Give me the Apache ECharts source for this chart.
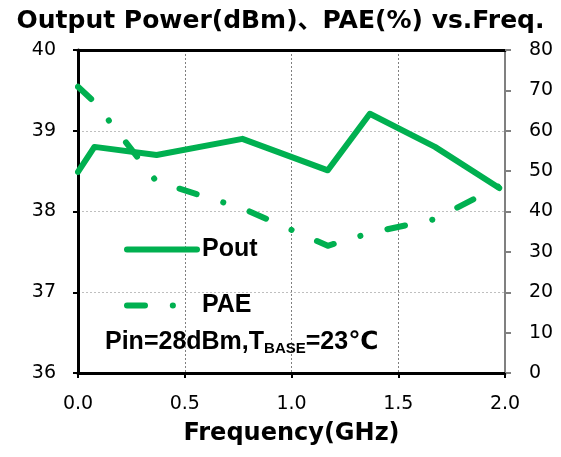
<!DOCTYPE html>
<html><head><meta charset="utf-8">
<script src="https://cdn.jsdelivr.net/npm/echarts@6/dist/echarts.min.js"></script>
<style>html,body{margin:0;padding:0;background:#fff}#c{width:561px;height:457px}</style>
</head><body><div id="c"></div>
<script>
var freq = [0.0, 0.077, 0.368, 0.77, 1.17, 1.367, 1.672, 1.973];
var pout = [38.49, 38.80, 38.70, 38.90, 38.51, 39.21, 38.80, 38.29];
var pae = [70.9, 67.1, 47.4, 40.8, 31.5, 34.7, 38.1, 46.3];
var xTicks = ['0.0', '0.5', '1.0', '1.5', '2.0'];
var green = '#00B050';
function pairs(xs, ys){ return xs.map(function(x,i){ return [x, ys[i]]; }); }

var chart = echarts.init(document.getElementById('c'), null, {renderer:'canvas'});
var axFont = 'DejaVu Sans';
chart.setOption({
  animation: false,
  backgroundColor: '#fff',
  title: {
    text: 'Output Power(dBm)、PAE(%) vs.Freq.',
    left: 'center', top: 9, padding: 0,
    textStyle: {fontFamily: 'DejaVu Sans, Noto Sans CJK SC', fontWeight: 'bold', fontSize: 25, color: '#000'}
  },
  legend: {
    left: 119, top: 232, orient: 'vertical',
    itemWidth: 70, itemHeight: 25, itemGap: 31,
    lineStyle: {width: 6},
    itemStyle: {opacity: 0},
    textStyle: {fontFamily: 'Liberation Sans', fontWeight: 'bold', fontSize: 25, color: '#000'},
    data: ['Pout', 'PAE']
  },
  grid: {left: 78, right: 56, top: 50, bottom: 84, containLabel: false},
  xAxis: [{
    type: 'value', min: 0, max: 2, interval: 0.5,
    axisLine: {show: true, onZero: false, lineStyle: {color: '#000', width: 3}},
    axisTick: {show: true, inside: false, length: 5, lineStyle: {color: '#000', width: 2}},
    axisLabel: {margin: 22, fontFamily: axFont, fontSize: 19, color: '#000',
      formatter: function(v){ return xTicks[Math.round(v/0.5)]; }},
    splitLine: {show: true, lineStyle: {color: '#7f7f7f', type: [2,2], width: 1}},
    name: 'Frequency(GHz)', nameLocation: 'middle', nameGap: 49,
    nameTextStyle: {fontFamily: 'DejaVu Sans', fontWeight: 'bold', fontSize: 24, color: '#000'}
  }, {
    type: 'value', position: 'top', min: 0, max: 2, interval: 0.5,
    axisLine: {show: true, onZero: false, lineStyle: {color: '#000', width: 3}},
    axisTick: {show: false}, axisLabel: {show: false}, splitLine: {show: false}
  }],
  yAxis: [{
    type: 'value', min: 36, max: 40, interval: 1, position: 'left',
    axisLine: {show: true, onZero: false, lineStyle: {color: '#000', width: 3}},
    axisTick: {show: true, inside: false, length: 5, lineStyle: {color: '#000', width: 2}},
    axisLabel: {margin: 22, fontFamily: axFont, fontSize: 19, color: '#000'},
    splitLine: {show: true, lineStyle: {color: '#bfbfbf', type: [2,2], width: 1}}
  }, {
    type: 'value', min: 0, max: 80, interval: 10, position: 'right',
    axisLine: {show: true, onZero: false, lineStyle: {color: '#808080', width: 2}},
    axisTick: {show: true, inside: false, length: 6, lineStyle: {color: '#808080', width: 2}},
    axisLabel: {margin: 24, fontFamily: axFont, fontSize: 19, color: '#000'},
    splitLine: {show: false}
  }],
  graphic: [{
    type: 'text', left: 105, top: 324, z: 100,
    style: {
      text: '{m|Pin=28dBm,T}{s|BASE}{m|=23℃}',
      rich: {
        m: {fontFamily: 'Liberation Sans, DejaVu Sans', fontWeight: 'bold', fontSize: 25, lineHeight: 26, verticalAlign: 'top', fill: '#000'},
        s: {fontFamily: 'Liberation Sans', fontWeight: 'bold', fontSize: 15, lineHeight: 15, verticalAlign: 'bottom', padding: [17,0,0,0], fill: '#000'}
      }
    }
  }],
  series: [{
    name: 'Pout', type: 'line', xAxisIndex: 0, yAxisIndex: 0,
    data: pairs(freq, pout), symbol: 'none',
    lineStyle: {color: green, width: 6, join: 'round', cap: 'round'},
    itemStyle: {color: green}
  }, {
    name: 'PAE', type: 'line', xAxisIndex: 0, yAxisIndex: 1,
    data: pairs(freq, pae), symbol: 'none',
    lineStyle: {color: green, width: 6, type: [18, 27.8, 0.1, 27.8], cap: 'round', join: 'round'},
    itemStyle: {color: green}
  }]
});
</script></body></html>
